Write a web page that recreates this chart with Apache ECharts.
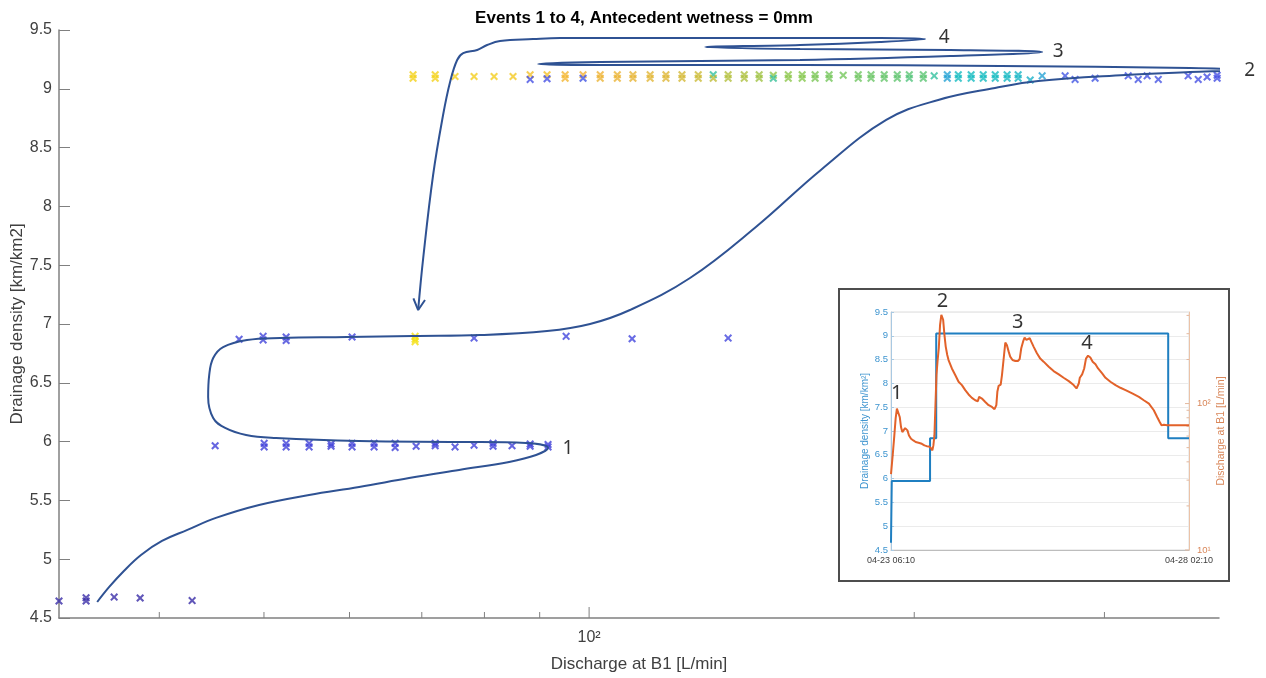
<!DOCTYPE html>
<html><head><meta charset="utf-8">
<script src="https://cdn.jsdelivr.net/npm/echarts@6/dist/echarts.min.js"></script>
<style>html,body{margin:0;padding:0;background:#fff}#c{width:1266px;height:678px}</style>
</head><body><div id="c"></div>
<script>
// ================= MAIN CHART DATA =================
const titleText = 'Events 1 to 4, Antecedent wetness = 0mm';
const xAxisTitle = 'Discharge at B1 [L/min]';
const yAxisTitle = 'Drainage density [km/km2]';
const dischargeMin = 32.3, dischargeMax = 383;
const densityMin = 4.5, densityMax = 9.5, densityStep = 0.5;
const dischargeTicks = [40, 50, 60, 70, 80, 90, 100, 200, 300];
const dischargeMajorTicks = [100];
const dischargeTickLabels = {100: '10²'};

// scatter points: [discharge L/min, drainage density km/km2, time fraction (colour)]
const pointsDensity465 = [
  [32.3,4.645,0.0],[34.22,4.672,0.0],[34.22,4.645,0.0],[36.33,4.678,0.0],[38.40,4.67,0.0],[42.90,4.648,0.0]
];
const pointsDensity60 = [
  [45.06,5.965,0.1],[50.02,5.985,0.1],[50.02,5.955,0.1],[52.42,5.985,0.1],[52.42,5.955,0.1],
  [55.05,5.985,0.1],[55.05,5.955,0.1],[57.69,5.98,0.1],[57.69,5.96,0.1],[60.33,5.985,0.1],[60.33,5.955,0.1],
  [63.23,5.985,0.1],[63.23,5.955,0.1],[66.13,5.985,0.1],[66.13,5.95,0.1],[69.16,5.96,0.1],
  [72.03,5.985,0.1],[72.03,5.965,0.1],[75.14,5.955,0.1],[78.25,5.97,0.1],[81.49,5.985,0.1],[81.49,5.96,0.1],
  [84.85,5.965,0.1],[88.19,5.98,0.1],[88.19,5.96,0.1],[91.62,5.975,0.1],[91.62,5.955,0.1]
];
const pointsDensity688 = [
  [47.42,6.87,0.12],[49.91,6.895,0.12],[49.91,6.865,0.12],[52.42,6.89,0.12],[52.42,6.86,0.12],
  [60.33,6.89,0.13],[78.25,6.88,0.14],[95.22,6.895,0.14],[109.6,6.875,0.14],[134.5,6.88,0.14],
  [69.01,6.895,1.0],[69.01,6.87,1.0],[69.01,6.85,1.0]
];
const pointsDensity91 = [
  [68.71,9.12,0.97],[68.71,9.09,0.97],[72.03,9.12,0.97],[72.03,9.09,0.97],[75.14,9.105,0.96],
  [78.25,9.105,0.96],[81.66,9.105,0.96],[85.03,9.105,0.95],
  [88.19,9.12,0.93],[88.19,9.08,0.2],[91.43,9.12,0.93],[91.43,9.085,0.2],
  [95.02,9.12,0.91],[95.02,9.09,0.91],[98.72,9.12,0.9],[98.72,9.09,0.22],
  [102.4,9.12,0.89],[102.4,9.09,0.88],[106.2,9.12,0.88],[106.2,9.09,0.88],
  [109.8,9.12,0.87],[109.8,9.09,0.87],[113.9,9.12,0.86],[113.9,9.09,0.86],
  [117.8,9.12,0.85],[117.8,9.09,0.85],[121.9,9.12,0.83],[121.9,9.09,0.83],
  [126.2,9.12,0.81],[126.2,9.09,0.81],[130.3,9.12,0.55],[130.3,9.09,0.79],
  [134.5,9.12,0.77],[134.5,9.09,0.77],[139.2,9.12,0.76],[139.2,9.09,0.76],
  [143.7,9.12,0.74],[143.7,9.09,0.74],[148.1,9.115,0.72],[148.1,9.09,0.56],
  [152.9,9.12,0.71],[152.9,9.09,0.71],[157.5,9.12,0.7],[157.5,9.09,0.7],
  [161.9,9.12,0.68],[161.9,9.09,0.68],[166.8,9.12,0.67],[166.8,9.09,0.67],
  [171.9,9.115,0.67],[177.5,9.12,0.66],[177.5,9.09,0.66],[182.4,9.12,0.65],[182.4,9.09,0.65],
  [187.6,9.12,0.64],[187.6,9.09,0.64],[192.9,9.12,0.63],[192.9,9.09,0.63],
  [197.9,9.12,0.62],[197.9,9.09,0.6],[203.9,9.12,0.62],[203.9,9.09,0.62],
  [208.7,9.11,0.55],[214.6,9.12,0.42],[214.6,9.09,0.42],[219.7,9.12,0.5],[219.7,9.09,0.5],
  [225.8,9.12,0.5],[225.8,9.09,0.5],[231.7,9.12,0.5],[231.7,9.09,0.5],
  [237.7,9.12,0.5],[237.7,9.09,0.5],[243.8,9.12,0.49],[243.8,9.09,0.49],
  [249.6,9.12,0.48],[249.6,9.09,0.48],[256.1,9.075,0.47],[262.7,9.11,0.42],
  [275.9,9.11,0.22],[281.8,9.08,0.22],[294.1,9.09,0.22],[315.6,9.11,0.21],[322.4,9.08,0.21],
  [328.6,9.11,0.21],[336.5,9.08,0.21],[358.6,9.11,0.2],[366.4,9.08,0.2],[373.4,9.10,0.2],
  [381.5,9.115,0.2],[381.5,9.09,0.2]
];
// hand-drawn annotation path [discharge, density]
const annotationPath = [
  [35.04,4.636],[35.95,4.764],[37.09,4.900],[38.47,5.036],[40.23,5.155],[42.47,5.249],[45.13,5.351],[49.48,5.461],[55.05,5.546],
  [61.24,5.614],[68.13,5.690],[75.79,5.759],[84.33,5.827],[89.31,5.886],[91.62,5.946],[87.44,5.988],
  [75.79,5.997],[61.24,6.005],[51.31,6.031],[48.13,6.056],[46.03,6.116],[44.87,6.201],[44.39,6.379],
  [44.49,6.566],[44.87,6.711],[45.83,6.804],[48.23,6.864],[51.75,6.881],[59.69,6.889],[68.71,6.898],
  [79.27,6.906],[91.43,6.940],[100.2,7.000],[109.1,7.119],[124.0,7.391],[142.7,7.825],[163.9,8.310],
  [188.4,8.735],[210.5,8.905],[237.6,9.007],[260.5,9.066],[313.6,9.117],[360.1,9.143],[397.2,9.160],
  [360.1,9.177],[240.2,9.194],[156.8,9.202],[102.4,9.202],[89.7,9.211],[102.4,9.228],[156.8,9.245],
  [216.0,9.279],[262.7,9.313],[216.0,9.330],[156.8,9.338],[128.1,9.355],[156.8,9.372],[186.0,9.398],
  [204.7,9.423],[186.0,9.432],[126.7,9.432],[94.0,9.432],[88.74,9.423],[82.7,9.406],[80.46,9.372],
  [78.78,9.330],[76.46,9.304],[75.48,9.245],[74.35,9.058],[73.25,8.777],[71.71,8.267],[70.21,7.561],
  [69.46,7.119]
];
const arrowHead = [[68.76,7.218],[69.46,7.119],[70.48,7.204]];
const eventNames = ['1', '2', '3', '4'];
const eventLabelDischarge = [95.6, 409, 271.9, 213.2];
const eventLabelDensity = [5.937, 9.151, 9.313, 9.432];

// ================= INSET DATA =================
const insetTimeLabels = ['04-23 06:10', '04-28 02:10'];
const insetSpanHours = 116;
const insetLeftTitle = 'Drainage density [km/km²]';
const insetRightTitle = 'Discharge at B1 [L/min]';
const insetDischargeMin = 10, insetDischargeMax = 422;
const insetDischargeTicks = [10, 20, 30, 40, 50, 60, 70, 80, 90, 100, 200, 300, 400];
const insetDischargeMajor = [10, 100];
const insetDischargeLabels = {10: '10¹', 100: '10²'};
// [hours since 04-23 06:10, density]
const insetDensity = [[0,4.65],[0.3,4.65],[0.3,5.95],[15.2,5.95],[15.2,6.85],[17.6,6.85],[17.6,9.05],[107.9,9.05],[107.9,6.85],[116,6.85]];
// [hours, discharge L/min]
const insetDischarge = [
  [0,33],[0.65,44.2],[1.3,60.6],[1.8,78.9],[2.3,92.4],[2.6,94.9],[2.9,93.3],[3.4,81],[3.9,69.1],[4.4,63.9],
  [4.9,63.2],[5.5,68],[6.4,65.6],[7.0,60.6],[7.8,57.5],[8.7,56],[9.6,54.6],[10.7,54],[12.0,53.1],[13.0,51.8],
  [13.9,51.2],[14.8,50.9],[15.6,49.6],[16.1,47.9],[16.5,51.8],[16.9,60.6],[17.3,97.5],[17.7,156.6],[18.1,193.3],
  [18.6,238.6],[19.1,345.3],[19.6,403.8],[19.9,408],[20.3,373.4],[20.8,294.6],[21.3,245],[21.9,214.6],[22.4,198.3],
  [23.7,173.7],[25.0,156.6],[26.3,140.9],[27.6,133.7],[28.9,123.6],[30.2,115.4],[31.5,109.4],[32.8,105.4],
  [33.8,103.8],[34.3,111.1],[35.4,108.2],[36.7,102.6],[38.0,97.5],[39.3,94.9],[40.3,91.5],[41.0,97.5],
  [41.4,120.3],[41.9,132.2],[42.7,134.9],[43.2,156.6],[44.0,214.6],[44.5,260.6],[44.7,264.7],[45.1,251.2],
  [45.8,226.3],[46.4,209.1],[47.3,198.3],[48.4,195.3],[49.4,195.3],[50.1,201.6],[50.7,238.6],[51.4,264.7],
  [52.0,282.6],[52.7,272.4],[53.3,264.7],[54.0,279.3],[54.6,264.7],[55.5,245],[56.8,220.4],[58.1,202.8],
  [59.4,193.3],[61.4,178.5],[63.3,166.7],[65.3,158.2],[67.2,150],[69.2,142.3],[71.1,133.7],[72.2,126.8],
  [72.7,123.6],[73.1,137.1],[73.5,150],[74.4,158.2],[75.2,173.7],[75.9,202.8],[76.7,212.3],[77.6,206.1],
  [78.5,193.3],[79.6,185.4],[80.6,173.7],[82.2,160.7],[83.5,150],[85.4,140.9],[87.4,133.7],[89.3,128.2],
  [91.3,123.6],[93.9,117.2],[96.5,111.1],[98.4,105.4],[100.4,100],[102.3,90],[103.6,81],[104.6,74.8],
  [105.3,71],[106.2,71.7],[106.9,70.3],[107.5,71],[109.5,71],[116,71]
];
const insetLabelHours = [2.2, 20.0, 49.3, 76.3];
const insetLabelDischarge = [117, 499, 360, 258];

// ================= STYLE =================
const FONT = '"Liberation Sans", Arial, Helvetica, sans-serif';
const NUMFONT = '"Noto Sans", "Liberation Sans", sans-serif';
const AXIS_GRAY = '#808080';
const TEXT_GRAY = '#404040';
const colourStops = ['#3A2DA8','#4040D8','#4650E4','#3C78E4','#2A9CDA','#16BCC0','#52C47E','#86C84E','#C8BC38','#F4B236','#F4E010'];
const X_SYMBOL = 'path://M0,1.8L1.8,0L5,3.2L8.2,0L10,1.8L6.8,5L10,8.2L8.2,10L5,6.8L1.8,10L0,8.2L3.2,5Z';

const chart = echarts.init(document.getElementById('c'), null, {renderer: 'canvas', width: 1266, height: 678});

const allPoints = [].concat(pointsDensity465, pointsDensity60, pointsDensity688, pointsDensity91);

const option = {
  animation: false,
  backgroundColor: '#ffffff',
  title: {
    text: titleText, left: 639, top: 5, textAlign: 'center',
    textStyle: {fontFamily: FONT, fontSize: 17, fontWeight: 'bold', color: '#000'}
  },
  graphic: [{
    type: 'rect', left: 838, top: 288, z: -1, silent: true,
    shape: {width: 390, height: 292},
    style: {fill: '#fff', stroke: '#4d4d4d', lineWidth: 2}
  }],
  visualMap: {
    type: 'continuous', show: false, seriesIndex: 0, dimension: 2, min: 0, max: 1,
    inRange: {color: colourStops}
  },
  grid: [
    {left: 59, right: 47, top: 30, bottom: 60, outerBoundsMode: 'none'},
    {left: 891, width: 298, top: 312, height: 238, show: true, borderColor: '#DCDCDC', borderWidth: 1,
     backgroundColor: '#fff', outerBoundsMode: 'none'}
  ],
  xAxis: [
    {
      type: 'log', logBase: 10, gridIndex: 0, min: dischargeMin, max: dischargeMax,
      axisLine: {onZero: false, lineStyle: {color: AXIS_GRAY, width: 1.5}},
      axisTick: {show: false}, splitLine: {show: false}, minorTick: {show: false},
      axisLabel: {
        formatter: v => dischargeTickLabels[Math.round(v)] || '',
        color: TEXT_GRAY, fontSize: 16, fontFamily: FONT, margin: 12
      },
      name: xAxisTitle, nameLocation: 'middle', nameGap: 38, nameMoveOverlap: false,
      nameTextStyle: {fontFamily: FONT, fontSize: 17, color: TEXT_GRAY}
    },
    {
      type: 'value', gridIndex: 1, min: 0, max: insetSpanHours, interval: insetSpanHours,
      axisLine: {onZero: false, lineStyle: {color: '#BDBDBD', width: 1}},
      axisTick: {show: false}, splitLine: {show: false},
      axisLabel: {
        formatter: v => v === 0 ? insetTimeLabels[0] : (v === insetSpanHours ? insetTimeLabels[1] : ''),
        color: '#404040', fontSize: 9, fontFamily: FONT, margin: 6
      }
    }
  ],
  yAxis: [
    {
      type: 'value', gridIndex: 0, min: densityMin, max: densityMax, interval: densityStep,
      axisLine: {show: true, onZero: false, lineStyle: {color: AXIS_GRAY, width: 1.5}},
      axisTick: {show: true, inside: true, length: 11, lineStyle: {color: AXIS_GRAY, width: 1}},
      splitLine: {show: false},
      axisLabel: {color: TEXT_GRAY, fontSize: 16, fontFamily: FONT, margin: 7},
      name: yAxisTitle, nameLocation: 'middle', nameGap: 33, nameMoveOverlap: false,
      nameTextStyle: {fontFamily: FONT, fontSize: 17, color: TEXT_GRAY}
    },
    {
      type: 'value', gridIndex: 1, position: 'left', min: densityMin, max: densityMax, interval: densityStep,
      axisLine: {show: true, onZero: false, lineStyle: {color: '#A9C9E2', width: 1}},
      axisTick: {show: true, inside: true, length: 3, lineStyle: {color: '#A9C9E2'}},
      splitLine: {show: true, lineStyle: {color: '#EBEBEB', width: 1}},
      axisLabel: {color: '#3D94CF', fontSize: 9.5, fontFamily: FONT, margin: 3},
      name: insetLeftTitle, nameLocation: 'middle', nameGap: 21,
      nameTextStyle: {fontFamily: FONT, fontSize: 10, color: '#3D94CF'}
    },
    {
      type: 'log', logBase: 10, gridIndex: 1, position: 'right', min: insetDischargeMin, max: insetDischargeMax,
      axisLine: {show: true, onZero: false, lineStyle: {color: '#EBC3A8', width: 1}},
      axisTick: {show: false}, splitLine: {show: false}, minorTick: {show: false},
      axisLabel: {
        formatter: v => insetDischargeLabels[Math.round(v)] || '',
        color: '#D9875A', fontSize: 9.5, fontFamily: FONT, margin: 8
      },
      name: insetRightTitle, nameLocation: 'middle', nameGap: 27,
      nameTextStyle: {fontFamily: FONT, fontSize: 10.5, color: '#D9875A'}
    }
  ],
  series: [
    {
      type: 'scatter', xAxisIndex: 0, yAxisIndex: 0, data: allPoints,
      symbol: X_SYMBOL, symbolSize: 8, clip: false, z: 3, silent: true
    },
    {
      type: 'custom', xAxisIndex: 0, yAxisIndex: 0, silent: true, z: 4,
      data: dischargeTicks.map(v => [v, densityMin]),
      renderItem: (params, api) => {
        const v = api.value(0);
        const p = api.coord([v, api.value(1)]);
        const len = dischargeMajorTicks.indexOf(v) >= 0 ? 11 : 6;
        return {type: 'line', shape: {x1: p[0], y1: p[1], x2: p[0], y2: p[1] - len},
                style: {stroke: AXIS_GRAY, lineWidth: 1}};
      }
    },
    {
      type: 'line', xAxisIndex: 0, yAxisIndex: 0, data: annotationPath, smooth: 0.4,
      symbol: 'none', clip: false, z: 5, silent: true,
      lineStyle: {color: '#2F5293', width: 2}
    },
    {
      type: 'line', xAxisIndex: 0, yAxisIndex: 0, data: arrowHead, smooth: false,
      symbol: 'none', clip: false, z: 5, silent: true,
      lineStyle: {color: '#2F5293', width: 2}
    },
    {
      type: 'scatter', xAxisIndex: 0, yAxisIndex: 0, clip: false, z: 6, silent: true,
      symbolSize: 1, itemStyle: {color: 'transparent'},
      data: eventNames.map((n, i) => ({name: n, value: [eventLabelDischarge[i], eventLabelDensity[i]]})),
      label: {show: true, position: 'inside', formatter: '{b}', fontSize: 19, fontFamily: NUMFONT, color: '#000'}
    },
    {
      type: 'line', xAxisIndex: 1, yAxisIndex: 1, data: insetDensity, symbol: 'none', z: 3, silent: true,
      lineStyle: {color: '#1F7FC1', width: 2}
    },
    {
      type: 'line', xAxisIndex: 1, yAxisIndex: 2, data: insetDischarge, symbol: 'none', z: 4, silent: true,
      lineStyle: {color: '#E2622A', width: 2}
    },
    {
      type: 'custom', xAxisIndex: 1, yAxisIndex: 2, silent: true, z: 4,
      data: insetDischargeTicks.map(v => [insetSpanHours, v]),
      renderItem: (params, api) => {
        const v = api.value(1);
        const p = api.coord([api.value(0), v]);
        const len = insetDischargeMajor.indexOf(v) >= 0 ? 4 : 2.5;
        return {type: 'line', shape: {x1: p[0], y1: p[1], x2: p[0] - len, y2: p[1]},
                style: {stroke: '#E3B89E', lineWidth: 1}};
      }
    },
    {
      type: 'scatter', xAxisIndex: 1, yAxisIndex: 2, clip: false, z: 6, silent: true,
      symbolSize: 1, itemStyle: {color: 'transparent'},
      data: eventNames.map((n, i) => ({name: n, value: [insetLabelHours[i], insetLabelDischarge[i]]})),
      label: {show: true, position: 'inside', formatter: '{b}', fontSize: 20, fontFamily: NUMFONT, color: '#000'}
    }
  ]
};
chart.setOption(option);
</script>
</body></html>
